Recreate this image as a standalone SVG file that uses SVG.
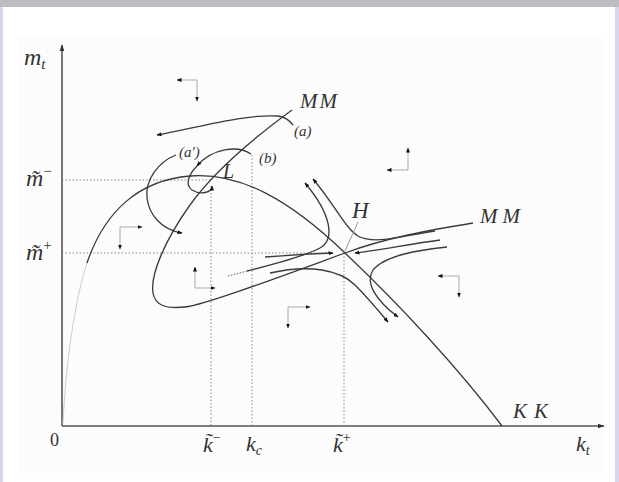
<svg xmlns="http://www.w3.org/2000/svg" width="619" height="482" viewBox="0 0 619 482">
<defs>
<style>
.c{fill:none;stroke:#3a3a3a;stroke-width:1.3}
.ax{fill:none;stroke:#555;stroke-width:1.6}
.dot{fill:none;stroke:#888;stroke-width:1;stroke-dasharray:1.5 2}
.g{fill:none;stroke:#aaa;stroke-width:1}
.t{font-family:"Liberation Serif","DejaVu Serif",serif;font-style:italic;fill:#333}
.n{font-family:"Liberation Serif","DejaVu Serif",serif;fill:#333}
</style>
<marker id="ah" viewBox="0 0 10 10" refX="9" refY="5" markerWidth="5" markerHeight="5" markerUnits="userSpaceOnUse" orient="auto-start-reverse"><path d="M0,1 L10,5 L0,9 z" fill="#111"/></marker>
<marker id="ax" viewBox="0 0 10 10" refX="9" refY="5" markerWidth="7" markerHeight="7" markerUnits="userSpaceOnUse" orient="auto"><path d="M0,1.5 L10,5 L0,8.5 z" fill="#333"/></marker>
</defs>
<rect x="0" y="0" width="619" height="482" fill="#fff"/>
<rect x="18" y="37" width="585" height="436" fill="#fcfcfc"/>
<rect x="0" y="0" width="619" height="7" fill="#bcbdc1"/>
<rect x="0" y="7" width="3" height="475" fill="#d6d6ee"/>
<rect x="615" y="7" width="4" height="475" fill="#d6d6ee"/>

<g id="axes">
<line class="ax" x1="62" y1="426" x2="62" y2="45" marker-end="url(#ax)"/>
<line class="ax" x1="62" y1="426" x2="604" y2="426" marker-end="url(#ax)"/>
</g>

<g id="guides">
<line class="dot" x1="62" y1="180" x2="210" y2="180"/>
<line class="dot" x1="62" y1="253" x2="330" y2="253"/>
<line class="dot" x1="211" y1="186" x2="211" y2="426"/>
<line class="dot" x1="252" y1="155" x2="252" y2="426"/>
<line class="dot" x1="344" y1="253" x2="344" y2="426"/>
</g>

<g id="connectors">
<path d="M63,424 C 66,360 75,300 87,263" fill="none" stroke="#ccc" stroke-width="1"/>
<path class="c" d="M87,263 C 105,210 140,180 190,176 C 240,172 290,200 345,253 C 400,305 460,370 502,426"/>
<path class="c" d="M292,110 C 255,137 215,170 190,205 C 165,240 150,275 153,293 C 155,305 165,309 185,307 C 205,305 290,273 345,253 C 385,238 430,230 473,223"/>
<path class="c" d="M157,135 C 200,127 245,114 278,116 C 285,117 290,121 293,125" marker-start="url(#ah)"/>
<path class="c" d="M176,155 C 158,162 145,180 147,198 C 149,215 162,230 182,233" marker-end="url(#ah)"/>
<path class="c" d="M251,154 C 238,145 212,148 197,166" marker-end="url(#ah)"/>
<path class="c" d="M197,166 C 188,175 185,185 192,190 C 200,195 212,193 212,186" marker-end="url(#ah)"/>
<path class="c" d="M265,257 C 290,255 310,254 333,253" marker-end="url(#ah)"/>
<path class="c" d="M440,240 C 410,244 380,250 355,253" marker-end="url(#ah)"/>
<path d="M228,276 L247,271" fill="none" stroke="#666" stroke-width="1" stroke-dasharray="1.5 1.5"/>
<path class="c" d="M247,271 C 275,264 305,256 320,248 C 335,240 332,215 305,183" marker-end="url(#ah)"/>
<path class="c" d="M435,231 C 400,236 375,245 358,236 C 345,228 335,205 313,179" marker-end="url(#ah)"/>
<path class="c" d="M270,273 C 310,264 340,270 355,285 C 368,298 378,310 388,322" marker-end="url(#ah)"/>
<path class="c" d="M447,247 C 420,250 385,255 373,270 C 365,282 375,300 398,317" marker-end="url(#ah)"/>
<line x1="358" y1="222" x2="345" y2="251" stroke="#999" stroke-width="1"/>
</g>

<g id="direction-arrows">
<path class="g" d="M177,80 L197,80 L197,101" marker-start="url(#ah)" marker-end="url(#ah)"/>
<path class="g" d="M387,170 L408,170 L408,148" marker-start="url(#ah)" marker-end="url(#ah)"/>
<path class="g" d="M120,249 L120,227 L142,227" marker-start="url(#ah)" marker-end="url(#ah)"/>
<path class="g" d="M195,267 L195,288 L215,288" marker-start="url(#ah)" marker-end="url(#ah)"/>
<path class="g" d="M288,328 L288,307 L310,307" marker-start="url(#ah)" marker-end="url(#ah)"/>
<path class="g" d="M438,276 L459,276 L459,297" marker-start="url(#ah)" marker-end="url(#ah)"/>
</g>

<g id="labels">
<text class="t" x="24" y="65" font-size="24">m<tspan font-size="15" dy="4">t</tspan></text>
<text class="t" x="26" y="186" font-size="24">m̃<tspan class="n" font-style="normal" font-size="15" dy="-10">−</tspan></text>
<text class="t" x="26" y="260" font-size="24">m̃<tspan class="n" font-style="normal" font-size="15" dy="-10">+</tspan></text>
<text class="n" x="50" y="446" font-size="18">0</text>
<text class="t" x="203" y="452" font-size="22">k̃<tspan class="n" font-style="normal" font-size="14" dy="-10">−</tspan></text>
<text class="t" x="246" y="451" font-size="22">k<tspan font-size="14" dy="4">c</tspan></text>
<text class="t" x="333" y="452" font-size="22">k̃<tspan class="n" font-style="normal" font-size="14" dy="-10">+</tspan></text>
<text class="t" x="576" y="451" font-size="22">k<tspan font-size="14" dy="4">t</tspan></text>
<text class="t" x="513" y="418" font-size="21" textLength="35" lengthAdjust="spacing">KK</text>
<text class="t" x="300" y="108" font-size="21" textLength="37" lengthAdjust="spacing">MM</text>
<text class="t" x="480" y="223" font-size="21" textLength="40" lengthAdjust="spacing">MM</text>
<text class="t" x="294" y="136" font-size="15">(a)</text>
<text class="t" x="179" y="157" font-size="15">(a′)</text>
<text class="t" x="259" y="163" font-size="15">(b)</text>
<text class="t" x="223" y="178" font-size="20">L</text>
<text class="t" x="352" y="218" font-size="23">H</text>
</g>
</svg>
